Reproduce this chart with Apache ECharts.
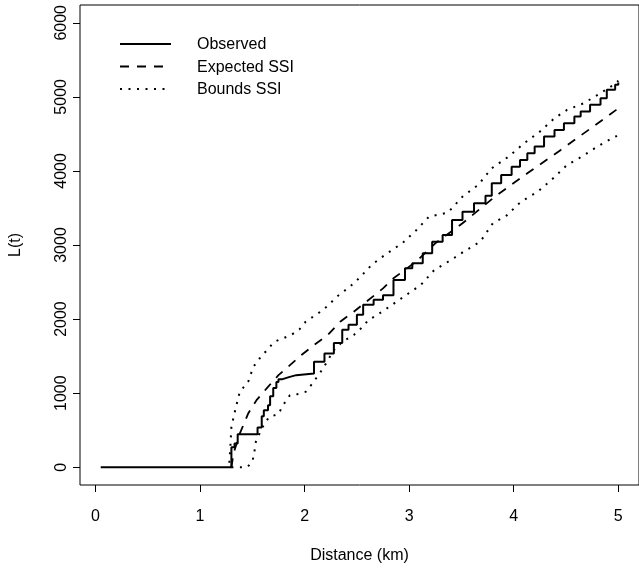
<!DOCTYPE html>
<html>
<head>
<meta charset="utf-8">
<script src="https://cdn.jsdelivr.net/npm/echarts@6/dist/echarts.min.js"></script>
<style>
html,body{margin:0;padding:0;background:#fff;}
#chart{width:639px;height:571px;}
</style>
</head>
<body>
<div id="chart"></div>
<script>
// Observed L(t): [distance km, value after step]
var observedX = [0.05, 1.30, 1.33, 1.36, 1.55, 1.59, 1.61, 1.65, 1.67, 1.70, 1.73, 1.75, 1.79, 1.85, 1.92,
  2.09, 2.19, 2.28, 2.36, 2.42, 2.50, 2.56, 2.66, 2.75, 2.85, 2.96, 3.03, 3.13, 3.22, 3.32, 3.41, 3.51, 3.62,
  3.73, 3.79, 3.88, 3.98, 4.06, 4.13, 4.20, 4.29, 4.39, 4.48, 4.58, 4.64, 4.73, 4.83, 4.89, 4.97, 5.00];
var observedY = [0, 270, 320, 446, 536, 689, 770, 838, 959, 1068, 1149, 1189, 1216, 1243, 1265,
  1423, 1536, 1676, 1856, 1923, 2058, 2194, 2261, 2320, 2527, 2685, 2752, 2888, 3045, 3135, 3338, 3450, 3563,
  3666, 3833, 3946, 4058, 4149, 4239, 4329, 4464, 4554, 4644, 4734, 4802, 4892, 4982, 5095, 5162, 5193];

var expectedX = [1.30, 1.32, 1.38, 1.46, 1.54, 1.65, 1.75, 1.86, 1.97, 2.09, 2.22, 2.34, 2.47, 2.59, 2.75, 2.85,
  3.07, 3.25, 3.51, 3.82, 4.13, 4.45, 4.76, 4.98, 5.00];
var expectedY = [0, 185, 454, 724, 905, 1085, 1243, 1378, 1514, 1649, 1784, 1964, 2099, 2234, 2414, 2550,
  2780, 3023, 3293, 3653, 3968, 4284, 4599, 4824, 4845];

var upperX = [1.28, 1.29, 1.30, 1.34, 1.38, 1.46, 1.51, 1.57, 1.64, 1.71, 1.79, 1.87, 1.95, 2.01, 2.08, 2.16,
  2.23, 2.30, 2.37, 2.44, 2.52, 2.58, 2.64, 2.71, 2.78, 2.94, 3.07, 3.19, 3.37, 3.51, 3.66, 3.79, 3.95, 4.10,
  4.25, 4.39, 4.51, 4.67, 4.83, 4.98, 5.00];
var upperY = [60, 274, 545, 793, 1018, 1153, 1355, 1469, 1581, 1694, 1739, 1784, 1860, 1964, 2031, 2108,
  2189, 2293, 2369, 2446, 2550, 2640, 2730, 2806, 2878, 3031, 3203, 3383, 3437, 3653, 3811, 4036, 4193, 4374,
  4531, 4712, 4824, 4914, 5050, 5185, 5220];

var lowerX = [1.30, 1.35, 1.45, 1.50, 1.52, 1.53, 1.59, 1.66, 1.75, 1.79, 1.86, 1.93, 2.01, 2.07, 2.17, 2.28,
  2.36, 2.47, 2.55, 2.61, 2.69, 2.75, 2.97, 3.11, 3.24, 3.40, 3.52, 3.68, 3.80, 3.93, 4.07, 4.23, 4.36, 4.51,
  4.65, 4.80, 4.97, 5.00];
var lowerY = [0, 0, 0, 72, 207, 329, 523, 680, 716, 829, 973, 986, 1018, 1122, 1320, 1581,
  1693, 1784, 1888, 1986, 2054, 2108, 2324, 2459, 2662, 2797, 2909, 3045, 3293, 3396, 3585, 3720, 3878, 4081,
  4193, 4329, 4464, 4473];

var xTicks = [0, 1, 2, 3, 4, 5];
var yTicks = [0, 1000, 2000, 3000, 4000, 5000, 6000];
var legendNames = ['Observed', 'Expected SSI', 'Bounds SSI'];

function pairs(xs, ys) { return xs.map(function (x, i) { return [x, ys[i]]; }); }

var FONT = 'Liberation Sans, Arial, Helvetica, sans-serif';
var chart = echarts.init(document.getElementById('chart'), null, {renderer: 'canvas'});

var legendGraphics = [];
var dashes = [null, [9, 8], [2, 6.5]];
var widths = [2, 1.8, 2];
legendNames.forEach(function (name, i) {
  var y = 44 + i * 22.5;
  legendGraphics.push({
    type: 'line', shape: {x1: 120, y1: y, x2: 171, y2: y},
    style: {stroke: '#000', lineWidth: widths[i], lineDash: dashes[i]}
  });
  legendGraphics.push({
    type: 'text', left: 197, top: y - 7,
    style: {text: name, fill: '#000', font: '16px ' + FONT}
  });
});

function plain(v) { return String(v); }

chart.setOption({
  animation: false,
  backgroundColor: '#fff',
  grid: {left: 79, top: 5, right: -7, bottom: 86, show: true, borderColor: '#000', borderWidth: 1, containLabel: false},
  xAxis: {
    type: 'value', min: -0.148, max: 5.198,
    name: 'Distance (km)', nameLocation: 'middle', nameGap: 63,
    nameTextStyle: {fontFamily: FONT, fontSize: 16, color: '#000'},
    axisLine: {show: false, onZero: false},
    splitLine: {show: false},
    axisTick: {show: true, inside: false, length: 7, lineStyle: {color: '#000', width: 1}, customValues: xTicks},
    axisLabel: {fontFamily: FONT, fontSize: 16, color: '#000', margin: 24, customValues: xTicks, formatter: plain}
  },
  yAxis: {
    type: 'value', min: -240, max: 6240,
    name: 'L(t)', nameLocation: 'middle', nameGap: 56, nameRotate: 90,
    nameTextStyle: {fontFamily: FONT, fontSize: 16, color: '#000'},
    axisLine: {show: false, onZero: false},
    splitLine: {show: false},
    axisTick: {show: true, inside: false, length: 7, lineStyle: {color: '#000', width: 1}, customValues: yTicks},
    axisLabel: {fontFamily: FONT, fontSize: 16, color: '#000', margin: 10, rotate: 90, customValues: yTicks, formatter: plain}
  },
  graphic: legendGraphics,
  series: [
    {type: 'line', name: 'Observed', step: 'end', showSymbol: false, data: pairs(observedX, observedY),
      lineStyle: {color: '#000', width: 2}},
    {type: 'line', name: 'Expected SSI', showSymbol: false, smooth: false, data: pairs(expectedX, expectedY),
      lineStyle: {color: '#000', width: 1.8, type: [9, 8]}},
    {type: 'line', name: 'Upper', showSymbol: false, data: pairs(upperX, upperY),
      lineStyle: {color: '#000', width: 2, type: [2, 6.5]}},
    {type: 'line', name: 'Lower', showSymbol: false, data: pairs(lowerX, lowerY),
      lineStyle: {color: '#000', width: 2, type: [2, 6.5]}}
  ]
});
</script>
</body>
</html>
